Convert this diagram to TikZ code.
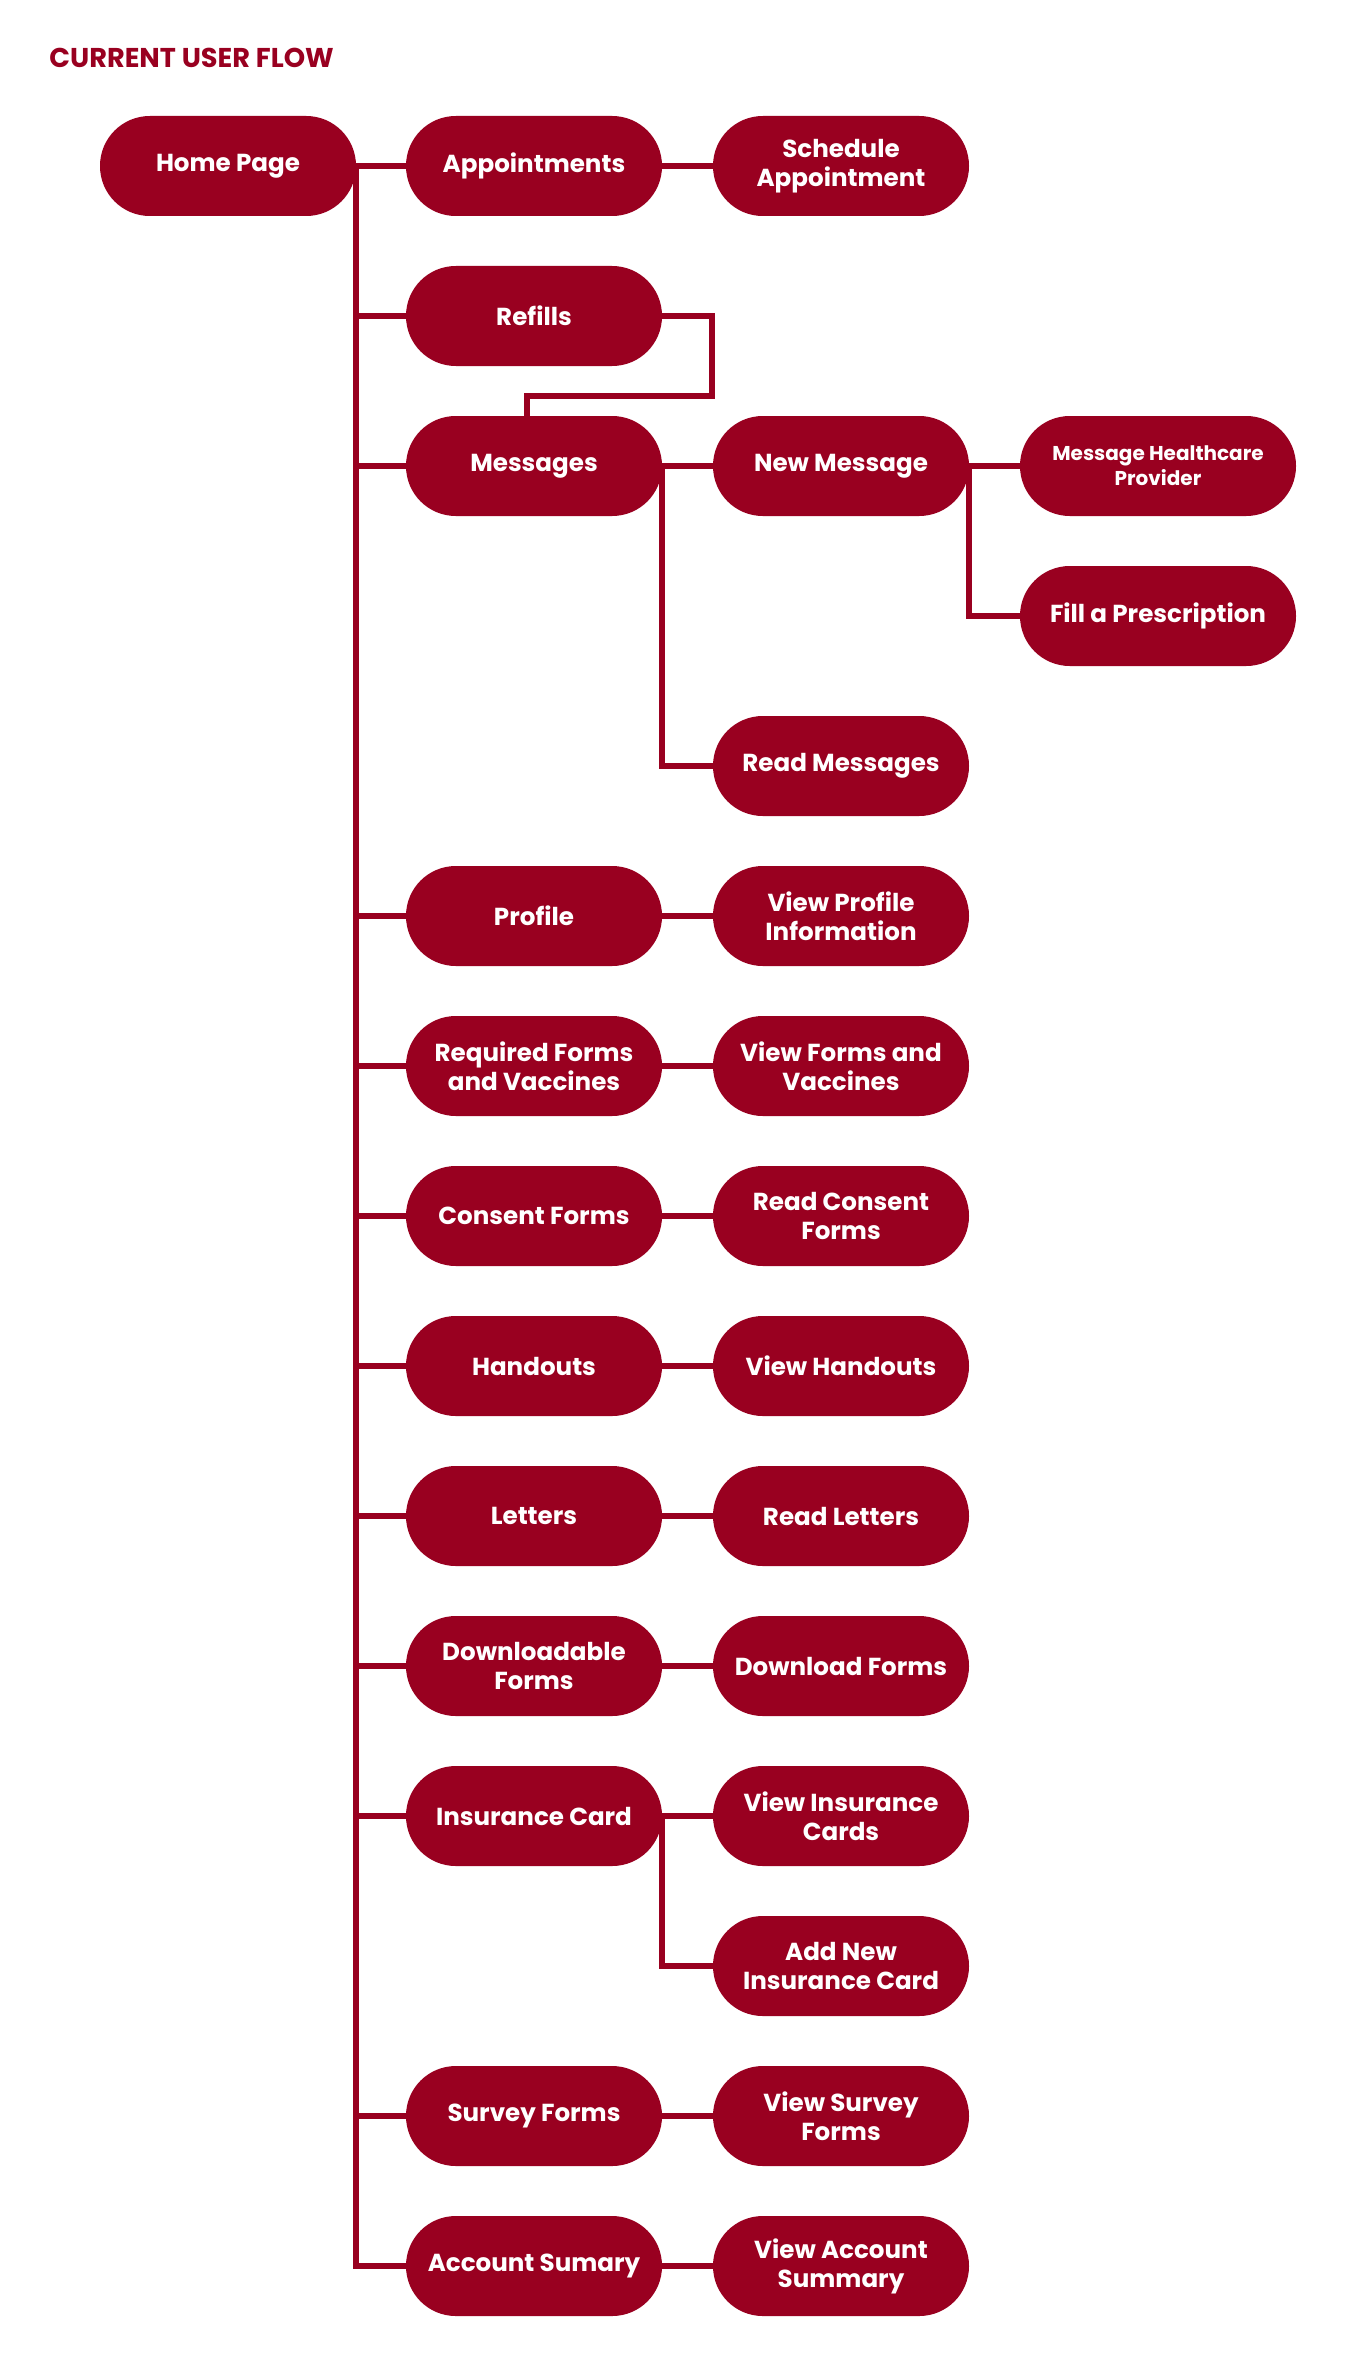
\documentclass[tikz,border=0pt]{standalone}
\usepackage{fontspec}
\setmainfont{Poppins}
\usepackage{tikz}
\definecolor{maroon3}{HTML}{990020}

\begin{document}
\begin{tikzpicture}[x=0.5pt, y=-0.5pt, every node/.style={font=\bfseries\fontsize{12.3}{14.5}\selectfont},
  box/.style={fill=maroon3, text=white, rounded corners=24.9pt, minimum width=128pt, minimum height=50pt, align=center, inner sep=0pt},
  wide/.style={box, minimum width=138pt},
  link/.style={maroon3, line width=3pt}]

  \useasboundingbox (0,0) rectangle (1366,2365);

  \node[anchor=base west, inner sep=0pt, text=maroon3, font=\bfseries\fontsize{13.6}{15}\selectfont] (title) at (49,68) {CURRENT USER FLOW};

  % first column
  \node[box] (home) at (228,166) {Home Page};

  % second column
  \node[box] (appt) at (534,166) {Appointments};
  \node[box] (refills) at (534,316) {Refills};
  \node[box] (msgs) at (534,466) {Messages};
  \node[box] (profile) at (534,916) {Profile};
  \node[box] (reqforms) at (534,1066) {Required Forms\\and Vaccines};
  \node[box] (consent) at (534,1216) {Consent Forms};
  \node[box] (handouts) at (534,1366) {Handouts};
  \node[box] (letters) at (534,1516) {Letters};
  \node[box] (download) at (534,1666) {Downloadable\\Forms};
  \node[box] (insurance) at (534,1816) {Insurance Card};
  \node[box] (survey) at (534,2116) {Survey Forms};
  \node[box] (account) at (534,2266) {Account Sumary};

  % third column
  \node[box] (sched) at (841,166) {Schedule\\Appointment};
  \node[box] (newmsg) at (841,466) {New Message};
  \node[box] (readmsg) at (841,766) {Read Messages};
  \node[box] (viewprofile) at (841,916) {View Profile\\Information};
  \node[box] (viewforms) at (841,1066) {View Forms and\\Vaccines};
  \node[box] (readconsent) at (841,1216) {Read Consent\\Forms};
  \node[box] (viewhandouts) at (841,1366) {View Handouts};
  \node[box] (readletters) at (841,1516) {Read Letters};
  \node[box] (dlforms) at (841,1666) {Download Forms};
  \node[box] (viewins) at (841,1816) {View Insurance\\Cards};
  \node[box] (addins) at (841,1966) {Add New\\Insurance Card};
  \node[box] (viewsurvey) at (841,2116) {View Survey\\Forms};
  \node[box] (viewaccount) at (841,2266) {View Account\\Summary};

  % fourth column
  \node[wide, font=\bfseries\fontsize{10}{12.5}\selectfont] (provider) at (1158,466) {Message Healthcare\\Provider};
  \node[wide] (fill) at (1158,616) {Fill a Prescription};

  % trunk
  \draw[link] (home.east) -- (appt.west);
  \draw[link] (home.east) |- (refills.west);
  \draw[link] (home.east) |- (msgs.west);
  \draw[link] (home.east) |- (profile.west);
  \draw[link] (home.east) |- (reqforms.west);
  \draw[link] (home.east) |- (consent.west);
  \draw[link] (home.east) |- (handouts.west);
  \draw[link] (home.east) |- (letters.west);
  \draw[link] (home.east) |- (download.west);
  \draw[link] (home.east) |- (insurance.west);
  \draw[link] (home.east) |- (survey.west);
  \draw[link] (home.east) |- (account.west);

  % refills loop into messages
  \coordinate (bend) at (712,396);
  \coordinate (drop) at (527,418);
  \draw[link] (refills.east) -| (bend) -| (drop);

  \draw[link] (appt) -- (sched);
  \draw[link] (msgs) -- (newmsg);
  \draw[link] (msgs.east) |- (readmsg.west);
  \draw[link] (newmsg) -- (provider);
  \draw[link] (newmsg.east) |- (fill.west);
  \draw[link] (profile) -- (viewprofile);
  \draw[link] (reqforms) -- (viewforms);
  \draw[link] (consent) -- (readconsent);
  \draw[link] (handouts) -- (viewhandouts);
  \draw[link] (letters) -- (readletters);
  \draw[link] (download) -- (dlforms);
  \draw[link] (insurance) -- (viewins);
  \draw[link] (insurance.east) |- (addins.west);
  \draw[link] (survey) -- (viewsurvey);
  \draw[link] (account) -- (viewaccount);

\end{tikzpicture}
\end{document}
